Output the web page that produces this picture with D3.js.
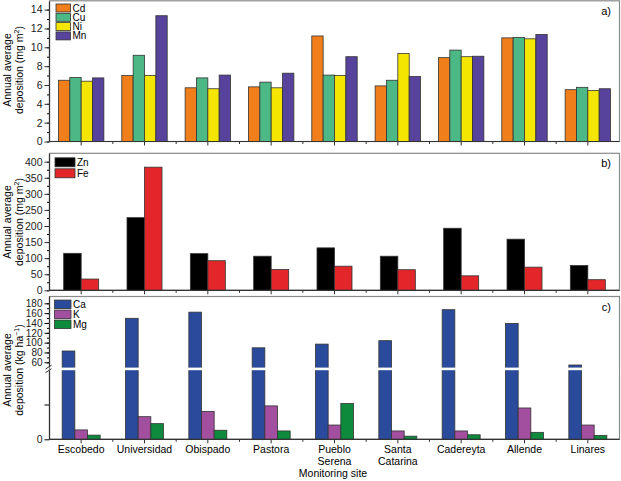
<!DOCTYPE html>
<html>
<head>
<meta charset="utf-8">
<script src="https://cdn.jsdelivr.net/npm/d3@7"></script>
<style>
  body { margin: 0; background: #fff; }
  svg { font-family: "Liberation Sans", Arial, sans-serif; }
</style>
</head>
<body>
<svg id="chart" width="621" height="481"></svg>
<script>
// sites along the x axis (line breaks with \n)
var sites = ["Escobedo", "Universidad", "Obispado", "Pastora", "Pueblo\nSerena",
             "Santa\nCatarina", "Cadereyta", "Allende", "Linares"];

// panel a) mg m-2
var metalsA = ["Cd", "Cu", "Ni", "Mn"];
var cd = [6.5, 7.0, 5.7, 5.8, 11.2, 5.9, 8.9, 11.0, 5.5];
var cu = [6.8, 9.15, 6.75, 6.3, 7.05, 6.5, 9.7, 11.05, 5.75];
var ni = [6.4, 7.0, 5.6, 5.7, 7.0, 9.35, 9.0, 10.9, 5.4];
var mn = [6.75, 13.35, 7.05, 7.25, 9.0, 6.9, 9.05, 11.35, 5.6];
var ticksA = [0, 2, 4, 6, 8, 10, 12, 14];

// panel b) mg m-2
var metalsB = ["Zn", "Fe"];
var zn = [115, 226, 114, 106, 132, 106, 193, 159, 77];
var fe = [35, 383, 92, 65, 75, 64, 45, 72, 33];
var ticksB = [0, 50, 100, 150, 200, 250, 300, 350, 400];

// panel c) kg ha-1, broken axis
var ionsC = ["Ca", "K", "Mg"];
var ca = [83, 149.5, 162, 89.5, 97, 104, 167, 139, 54.5];
var k = [1.35, 3.25, 4.0, 4.8, 2.05, 1.2, 1.2, 4.5, 2.05];
var mg = [0.6, 2.25, 1.3, 1.2, 5.15, 0.45, 0.65, 1.0, 0.55];
var ticksCHi = [60, 80, 100, 120, 140, 160, 180];

var colA = ["#f07f1b", "#4cb886", "#f4e600", "#57439b"];
var colB = ["#000000", "#e2262a"];
var colC = ["#2a4b9c", "#a24f9f", "#0e8a3d"];

var svg = d3.select("#chart");
var left = 49.5, right = 619.5;

var x = d3.scaleBand().domain(d3.range(sites.length)).range([left, right]);

function frame(top, bottom, label) {
  svg.append("rect")
    .attr("x", left).attr("y", top)
    .attr("width", right - left).attr("height", bottom - top)
    .attr("fill", "none").attr("stroke", "#8a8a8a").attr("stroke-width", 1.2);
  svg.append("text")
    .attr("x", 611).attr("y", top + 14)
    .attr("text-anchor", "end")
    .style("font-size", "11px")
    .text(label);
}

function xAxis(y0) {
  var g = svg.append("g");
  g.append("line").attr("x1", left).attr("x2", right)
    .attr("y1", y0).attr("y2", y0).attr("stroke", "#333").attr("stroke-width", 1.2);
  d3.range(sites.length).forEach(function(i) {
    var cx = x(i) + x.bandwidth() / 2;
    g.append("line").attr("x1", cx).attr("x2", cx)
      .attr("y1", y0).attr("y2", y0 + 4).attr("stroke", "#333");
    if (i > 0)
      g.append("line").attr("x1", x(i)).attr("x2", x(i))
        .attr("y1", y0).attr("y2", y0 + 2.5).attr("stroke", "#333");
  });
}

function yTitle(cy, unit, sup) {
  var t = svg.append("text")
    .attr("transform", "translate(0," + cy + ") rotate(-90)")
    .attr("text-anchor", "middle")
    .style("font-size", "10.5px");
  t.append("tspan").attr("x", 0).attr("y", 11).text("Annual average");
  var t2 = t.append("tspan").attr("x", 0).attr("y", 23).text("deposition (" + unit);
  t.append("tspan").attr("dy", -4).style("font-size", "7px").text(sup);
  t.append("tspan").attr("dy", 4).text(")");
}

function legend(keys, colors, x0, y0, step, w, h) {
  keys.forEach(function(key, i) {
    svg.append("rect")
      .attr("x", x0).attr("y", y0 + i * step - h / 2)
      .attr("width", w).attr("height", h)
      .attr("fill", colors[i]).attr("stroke", "#333").attr("stroke-width", 0.8);
    svg.append("text")
      .attr("x", x0 + w + 2).attr("y", y0 + i * step + 3.5)
      .style("font-size", "10px").text(key);
  });
}

function yAxisLinear(y, ticks, minorStep) {
  var g = svg.append("g").attr("transform", "translate(" + left + ",0)");
  var d = y.domain();
  g.call(d3.axisLeft(y).tickValues(d3.range(d[0], d[1] + 0.001, minorStep))
      .tickSize(2.5).tickFormat(""))
    .call(function(s) { s.select(".domain").remove(); });
  var g2 = svg.append("g").attr("transform", "translate(" + left + ",0)");
  g2.call(d3.axisLeft(y).tickValues(ticks).tickSize(5).tickPadding(2))
    .call(function(s) {
      s.select(".domain").remove();
      s.selectAll("text").style("font-size", "10.5px").attr("fill", "#222");
      s.selectAll("line").attr("stroke", "#333");
    });
  svg.append("line").attr("x1", left).attr("x2", left)
    .attr("y1", y.range()[0]).attr("y2", y.range()[1] - 8)
    .attr("stroke", "#333").attr("stroke-width", 1.2);
}

function barsGrouped(series, keys, colors, y, halfWidth) {
  var x1 = d3.scaleBand().domain(keys).range([-halfWidth, halfWidth]);
  series.forEach(function(vals, j) {
    svg.append("g").selectAll("rect")
      .data(vals)
      .join("rect")
      .attr("x", function(d, i) { return x(i) + x.bandwidth() / 2 + x1(keys[j]); })
      .attr("width", x1.bandwidth())
      .attr("y", function(d) { return y(d); })
      .attr("height", function(d) { return y(0) - y(d); })
      .attr("fill", colors[j])
      .attr("stroke", "#333").attr("stroke-width", 0.8);
  });
}

// ---------- panel a ----------
var yA = d3.scaleLinear().domain([0, 14]).range([141.5, 9.6]);
frame(0.8, 141.5, "a)");
barsGrouped([cd, cu, ni, mn], metalsA, colA, yA, 22.7);
yAxisLinear(yA, ticksA, 1);
xAxis(141.5);
legend(metalsA, colA, 56, 8, 9.3, 14.5, 8);
yTitle(70, "mg m", "2");

// ---------- panel b ----------
var yB = d3.scaleLinear().domain([0, 400]).range([290.3, 161.7]);
frame(153.3, 290.3, "b)");
barsGrouped([zn, fe], metalsB, colB, yB, 17.5);
yAxisLinear(yB, ticksB, 25);
xAxis(290.3);
legend(metalsB, colB, 55, 162.3, 11, 20, 9);
yTitle(222, "mg m", "2");

// ---------- panel c (broken axis) ----------
var yLo = d3.scaleLinear().domain([0, 10]).range([439.3, 369.7]);
var yHi = d3.scaleLinear().domain([60, 180]).range([362.3, 303.3]);
var breakY = 368.9;
frame(296.5, 439.3, "c)");

var xc = d3.scaleBand().domain(ionsC).range([-19, 19]);
[ca, k, mg].forEach(function(vals, j) {
  var yy = j === 0 ? yHi : yLo;
  svg.append("g").selectAll("rect")
    .data(vals)
    .join("rect")
    .attr("x", function(d, i) { return x(i) + x.bandwidth() / 2 + xc(ionsC[j]); })
    .attr("width", xc.bandwidth())
    .attr("y", function(d) { return yy(d); })
    .attr("height", function(d) { return yLo(0) - yy(d); })
    .attr("fill", colC[j])
    .attr("stroke", "#333").attr("stroke-width", 0.8);
});
// white gap across the tall bars
svg.append("rect").attr("x", left + 1).attr("y", breakY - 1.3)
  .attr("width", right - left - 2).attr("height", 2.6).attr("fill", "#fff");

// upper segment ticks
var gHiMinor = svg.append("g").attr("transform", "translate(" + left + ",0)");
gHiMinor.call(d3.axisLeft(yHi).tickValues(d3.range(60, 181, 10)).tickSize(2.5).tickFormat(""))
  .call(function(s) { s.select(".domain").remove(); });
svg.append("g").attr("transform", "translate(" + left + ",0)")
  .call(d3.axisLeft(yHi).tickValues(ticksCHi).tickSize(5).tickPadding(2))
  .call(function(s) {
    s.select(".domain").remove();
    s.selectAll("text").style("font-size", "10px").attr("fill", "#222");
  });
// lower segment ticks
svg.append("g").attr("transform", "translate(" + left + ",0)")
  .call(d3.axisLeft(yLo).tickValues([0, 5]).tickSize(5).tickPadding(2)
    .tickFormat(function(d) { return d === 0 ? "0" : ""; }))
  .call(function(s) {
    s.select(".domain").remove();
    s.selectAll("text").style("font-size", "10.5px").attr("fill", "#222");
  });
svg.append("line").attr("x1", left).attr("x2", left)
  .attr("y1", yLo(0)).attr("y2", breakY + 2).attr("stroke", "#333").attr("stroke-width", 1.2);
svg.append("line").attr("x1", left).attr("x2", left)
  .attr("y1", breakY - 2).attr("y2", 296.5).attr("stroke", "#333").attr("stroke-width", 1.2);
// break marks
[-1.8, 1.8].forEach(function(o) {
  svg.append("line").attr("x1", left - 4).attr("x2", left + 2)
    .attr("y1", breakY + o + 2).attr("y2", breakY + o - 2)
    .attr("stroke", "#333").attr("stroke-width", 1);
});
xAxis(439.3);
legend(ionsC, colC, 54.5, 304.3, 10, 16.5, 8.5);
yTitle(370, "kg ha", "\u22121");

// x tick labels
var lab = svg.append("g");
sites.forEach(function(s, i) {
  var t = lab.append("text")
    .attr("x", x(i) + x.bandwidth() / 2).attr("y", 453)
    .attr("text-anchor", "middle").style("font-size", "10.5px");
  s.split("\n").forEach(function(line, j) {
    t.append("tspan").attr("x", x(i) + x.bandwidth() / 2).attr("dy", j ? 11.5 : 0).text(line);
  });
});
svg.append("text").attr("x", 333).attr("y", 476.5)
  .attr("text-anchor", "middle").style("font-size", "10.5px").text("Monitoring site");
</script>
</body>
</html>
